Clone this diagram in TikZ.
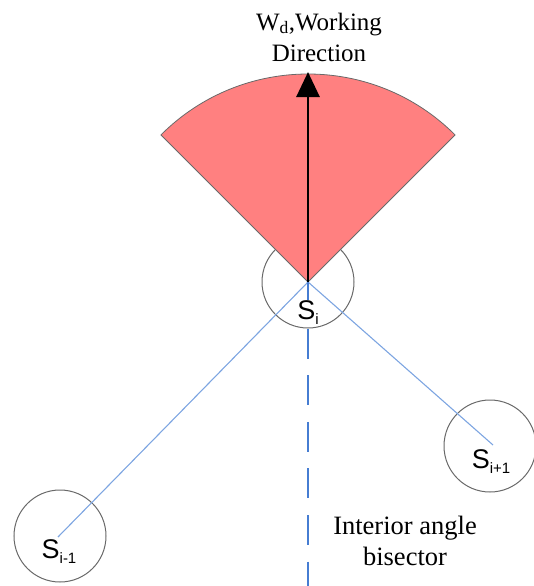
\documentclass[tikz,border=0pt]{standalone}
\usepackage{fontspec}
\setmainfont{Liberation Serif}
\setsansfont{Liberation Sans}
\usetikzlibrary{arrows.meta}
\definecolor{sectorred}{RGB}{255,128,128}
\definecolor{edgegray}{RGB}{105,105,105}
\definecolor{linkblue}{RGB}{125,165,225}
\definecolor{bisectblue}{RGB}{70,125,210}
\newcommand{\lowidx}[1]{\raisebox{-0.35ex}{\fontsize{15}{15}\selectfont #1}}
\begin{document}
\begin{tikzpicture}[x=1pt, y=-1pt,
  station/.style={draw=edgegray,circle,line width=1pt,minimum size=92pt,inner sep=0pt},
  slabel/.style={font=\sffamily\fontsize{27}{27}\selectfont,inner sep=1pt},
  textlbl/.style={font=\fontsize{25}{31}\selectfont,align=center,inner sep=0pt},
  link/.style={linkblue,line width=1.1pt},
  bisect/.style={bisectblue,line width=2.8pt,dash pattern=on 30pt off 16.6pt},
  workarrow/.style={line width=2.8pt,-{Triangle[width=23pt,length=25pt]}}]
\useasboundingbox (0,0) rectangle (533,586);
% stations
\node[station] (si) at (308,282) {};
\node[station] (sim) at (60,536) {};
\node[station] (sip) at (490,446) {};
\coordinate (foot) at (308,586);
\coordinate (tip) at (308,72);
% links to the neighbours
\draw[link] (si.center) -- (58,537);
\draw[link] (si.center) -- (493,445);
% working sector
\filldraw[fill=sectorred,draw=edgegray,line width=0.8pt] (si.center) -- ++(225:208)
  arc[start angle=225,end angle=315,radius=208] -- cycle;
\draw[workarrow] (si.center) -- (tip);
% bisector
\draw[bisect] (si.center) -- (foot);
\node[slabel,fill=white] (lsi) at (308,313) {S\lowidx{i}};
\node[slabel] (lsim) at (59,552) {S\lowidx{i-1}};
\node[slabel] (lsip) at (491,462) {S\lowidx{i+1}};
\node[textlbl] (wd) at (319,37) {W\textsubscript{d},Working\\Direction};
\node[textlbl,font=\fontsize{26.5}{31}\selectfont] (bis) at (405,541) {Interior angle\\bisector};
\end{tikzpicture}
\end{document}
